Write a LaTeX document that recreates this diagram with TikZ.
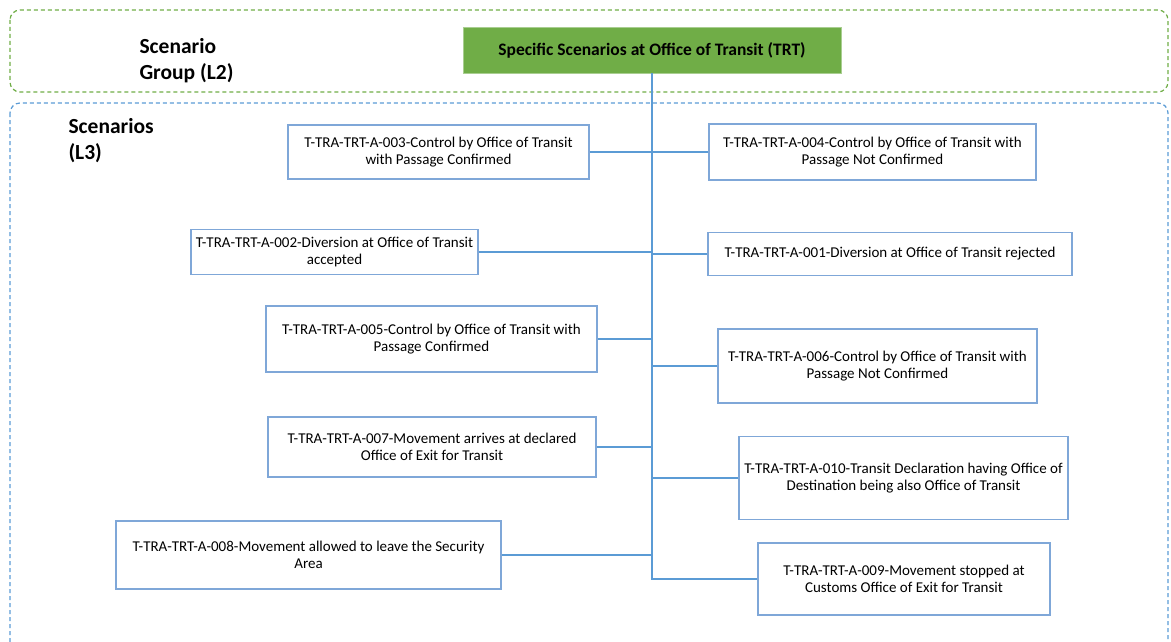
\documentclass[tikz,border=0pt]{standalone}
\usepackage{fontspec}
\setmainfont{Carlito}
\definecolor{grpgreen}{HTML}{70AD47}
\definecolor{lineblue}{HTML}{5B9BD5}
\definecolor{boxblue}{HTML}{7FA7D8}
\tikzset{
    scen/.style={draw=boxblue, line width=1.5pt, align=center, inner sep=2pt, font=\fontsize{15}{17.5}\selectfont},
    link/.style={draw=lineblue, line width=1.5pt},
    lvl/.style={align=left, font=\fontsize{21.5}{26}\selectfont\bfseries, anchor=north west}
}
\begin{document}
\begin{tikzpicture}[x=1pt, y=-1pt]
    \useasboundingbox (0,0) rectangle (1171,642);
    % level frames
    \draw[grpgreen, dash pattern=on 4pt off 3pt, line width=1.2pt, rounded corners=10pt](10,10) rectangle (1168,92);
    \draw[lineblue, dash pattern=on 4pt off 3pt, line width=1.2pt, rounded corners=10pt](10,103) rectangle (1168,652);
    \node[lvl](l2) at (136,35){Scenario\\Group (L2)};
    \node[lvl](l3) at (65,115){Scenarios\\(L3)};
    % scenario group
    \node[fill=grpgreen, draw=grpgreen!60, minimum width=378pt, minimum height=46pt, font=\fontsize{17.5}{20}\selectfont\bfseries](top) at (652,50){Specific Scenarios at Office of Transit (TRT)};
    % left scenarios
    \node[scen, minimum width=301pt, minimum height=54pt](l003) at (438.5,152){T-TRA-TRT-A-003-Control by Office of Transit\\with Passage Confirmed};
    \node[scen, minimum width=287pt, minimum height=45pt](l002) at (334.5,252){T-TRA-TRT-A-002-Diversion at Office of Transit\\accepted};
    \node[scen, minimum width=331pt, minimum height=66pt](l005) at (431.5,339){T-TRA-TRT-A-005-Control by Office of Transit with\\Passage Confirmed};
    \node[scen, minimum width=328pt, minimum height=60pt](l007) at (432,447){T-TRA-TRT-A-007-Movement arrives at declared\\Office of Exit for Transit};
    \node[scen, minimum width=385pt, minimum height=68pt](l008) at (308.5,555){T-TRA-TRT-A-008-Movement allowed to leave the Security\\Area};
    % right scenarios
    \node[scen, minimum width=327pt, minimum height=56pt](r004) at (872.5,152){T-TRA-TRT-A-004-Control by Office of Transit with\\Passage Not Confirmed};
    \node[scen, minimum width=364pt, minimum height=43pt](r001) at (890,254){T-TRA-TRT-A-001-Diversion at Office of Transit rejected};
    \node[scen, minimum width=319pt, minimum height=74pt](r006) at (877.5,366){T-TRA-TRT-A-006-Control by Office of Transit with\\Passage Not Confirmed};
    \node[scen, minimum width=329pt, minimum height=83pt](r010) at (903.5,478){T-TRA-TRT-A-010-Transit Declaration having Office of\\Destination being also Office of Transit};
    \node[scen, minimum width=292pt, minimum height=72pt](r009) at (904,579){T-TRA-TRT-A-009-Movement stopped at\\Customs Office of Exit for Transit};
    % connectors
    \coordinate(trunkend) at (top.south |- r009.west);
    \draw[link](top.south)--(trunkend)--(r009.west);
    \foreach \n in {l003,l002,l005,l007,l008}
        \draw[link](\n.east)--(\n.east -| top.south);
    \foreach \n in {r004,r001,r006,r010}
        \draw[link](\n.west)--(\n.west -| top.south);
\end{tikzpicture}
\end{document}
